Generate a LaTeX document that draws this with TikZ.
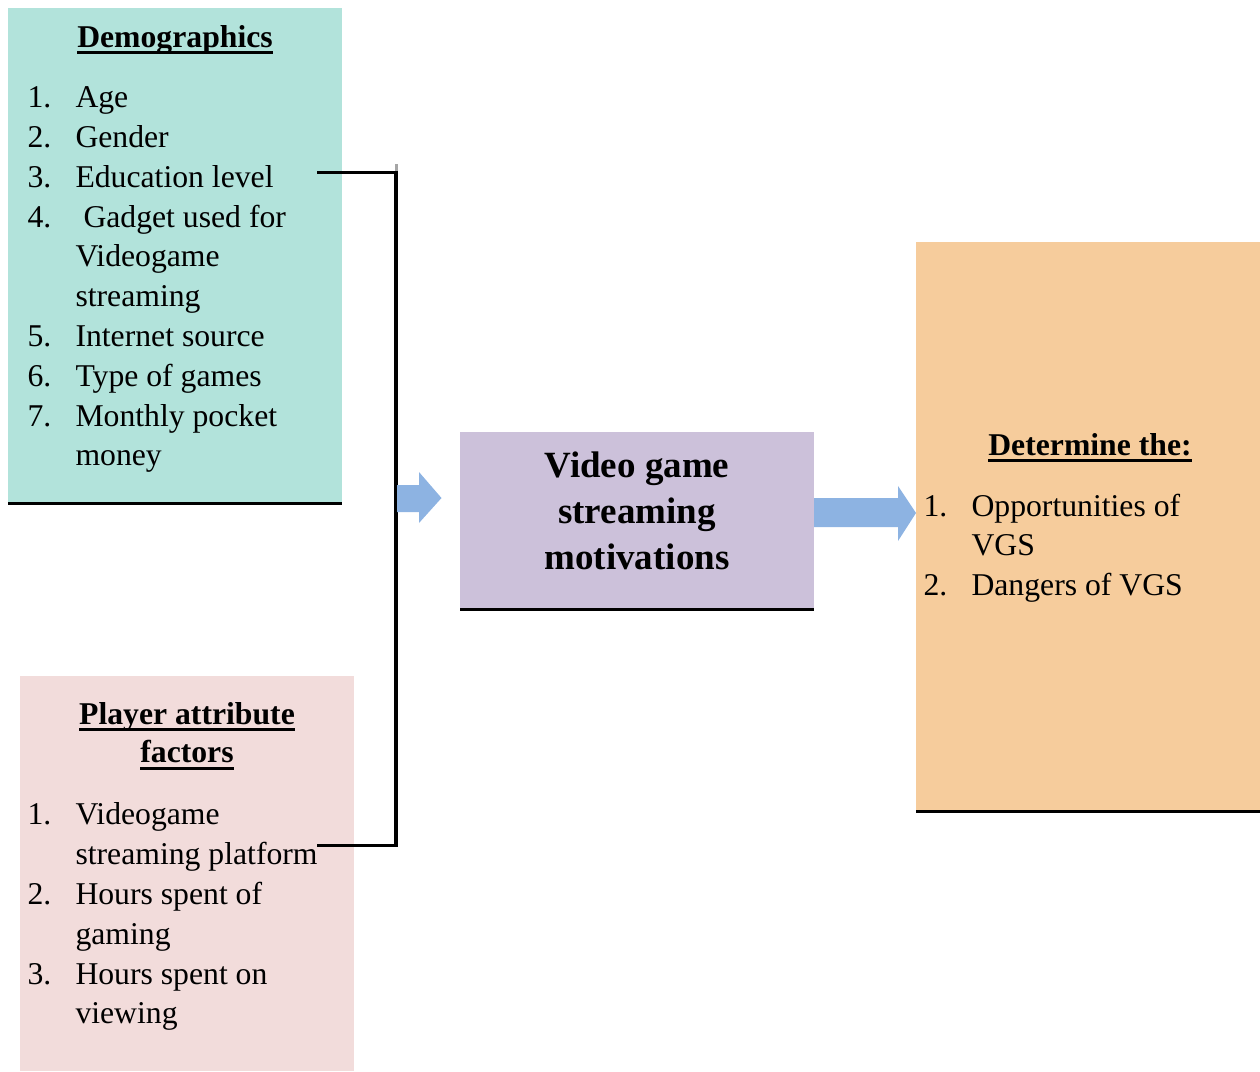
\documentclass[tikz,border=0pt]{standalone}
\usepackage{fontspec}
\setmainfont{Liberation Serif}
\definecolor{demoC}{RGB}{178,227,219}
\definecolor{playC}{RGB}{242,220,219}
\definecolor{motC}{RGB}{204,193,218}
\definecolor{detC}{RGB}{246,204,156}
\definecolor{arrowC}{RGB}{141,179,226}
\newsavebox\ulbox
\newcommand\myul[1]{\sbox\ulbox{#1}\rlap{\rule[-7.2pt]{\wd\ulbox}{3pt}}\usebox\ulbox}
\begin{document}
\begin{tikzpicture}[x=1pt,y=-1pt,
  box/.style={draw=none,inner sep=0pt,outer sep=0pt,anchor=north west},
  txt/.style={inner sep=0pt,outer sep=0pt,anchor=base west,font=\fontsize{31.7}{40}\selectfont},
  ttl/.style={inner sep=0pt,outer sep=0pt,anchor=base,font=\fontsize{31.7}{40}\selectfont\bfseries},
  bigt/.style={inner sep=0pt,outer sep=0pt,anchor=base,font=\fontsize{37}{46}\selectfont\bfseries},
  bline/.style={line width=3pt,black},
  link/.style={line width=3.2pt,black,line join=miter},
  blockarrow/.style={fill=arrowC,draw=none}]
\useasboundingbox (0,0) rectangle (1260,1071);
% boxes
\node[box,fill=demoC,minimum width=334pt,minimum height=495.2pt] (demo) at (8,8) {};
\node[box,fill=playC,minimum width=334pt,minimum height=395pt] (play) at (20,676) {};
\node[box,fill=motC,minimum width=354pt,minimum height=177.2pt] (mot) at (460,432) {};
\node[box,fill=detC,minimum width=344pt,minimum height=569.3pt] (det) at (916,242) {};
\draw[bline] (demo.south west) -- (demo.south east);
\draw[bline] (mot.south west) -- (mot.south east);
\draw[bline] (det.south west) -- (det.south east);
% demographics text
\node[ttl] (demoT) at (175,47) {\myul{Demographics}};
\node[txt] (d1n) at (27.5,107.5) {1.};
\node[txt] (d1) at (75.5,107.5) {Age};
\node[txt] (d2n) at (27.5,147.5) {2.};
\node[txt] (d2) at (75.5,147.5) {Gender};
\node[txt] (d3n) at (27.5,187.5) {3.};
\node[txt] (d3) at (75.5,187.5) {Education level};
\node[txt] (d4n) at (27.5,227) {4.};
\node[txt] (d4) at (83.5,227) {Gadget used for};
\node[txt] (d4b) at (75.5,266.5) {Videogame};
\node[txt] (d4c) at (75.5,306.5) {streaming};
\node[txt] (d5n) at (27.5,346.5) {5.};
\node[txt] (d5) at (75.5,346.5) {Internet source};
\node[txt] (d6n) at (27.5,386.5) {6.};
\node[txt] (d6) at (75.5,386.5) {Type of games};
\node[txt] (d7n) at (27.5,426) {7.};
\node[txt] (d7) at (75.5,426) {Monthly pocket};
\node[txt] (d7b) at (75.5,465.5) {money};
% player text
\node[ttl] (playT1) at (187,724) {\myul{Player attribute}};
\node[ttl] (playT2) at (187,762.5) {\myul{factors}};
\node[txt] (p1n) at (27.5,824.5) {1.};
\node[txt] (p1) at (75.5,824.5) {Videogame};
\node[txt] (p1b) at (75.5,864.5) {streaming platform};
\node[txt] (p2n) at (27.5,904.5) {2.};
\node[txt] (p2) at (75.5,904.5) {Hours spent of};
\node[txt] (p2b) at (75.5,944.5) {gaming};
\node[txt] (p3n) at (27.5,984.5) {3.};
\node[txt] (p3) at (75.5,984.5) {Hours spent on};
\node[txt] (p3b) at (75.5,1023.5) {viewing};
% center text
\node[bigt] (m1) at (637,477.5) {Video game};
\node[bigt] (m2) at (637,523.5) {streaming};
\node[bigt] (m3) at (637,569.5) {motivations};
% right text
\node[ttl] (detT) at (1090,455) {\myul{Determine the:}};
\node[txt] (r1n) at (923.5,516) {1.};
\node[txt] (r1) at (971.5,516) {Opportunities of};
\node[txt] (r1b) at (971.5,555.5) {VGS};
\node[txt] (r2n) at (923.5,595) {2.};
\node[txt] (r2) at (971.5,595) {Dangers of VGS};
% bracket connector
\coordinate (bTop) at (317,172.3);
\coordinate (bBot) at (317,845.5);
\coordinate (bMid) at (396,500);
\fill[gray!70] (394.5,164) rectangle (397.5,171);
\draw[link] (bTop) -| (bMid) |- (bBot);
% block arrows
\coordinate (saStart) at (397,498);
\coordinate (baStart) at (mot.east |- 0,512.5);
\fill[blockarrow] (saStart) ++(0,-13) -- ++(22,0) -- ++(0,-13) -- ++(22.5,26) -- ++(-22.5,25) -- ++(0,-11) -- ++(-22,0) -- cycle;
\fill[blockarrow] (baStart) ++(0,-14.5) -- ++(84,0) -- ++(0,-12) -- ++(18,27) -- ++(-18,28) -- ++(0,-14) -- ++(-84,0) -- cycle;
\end{tikzpicture}
\end{document}
